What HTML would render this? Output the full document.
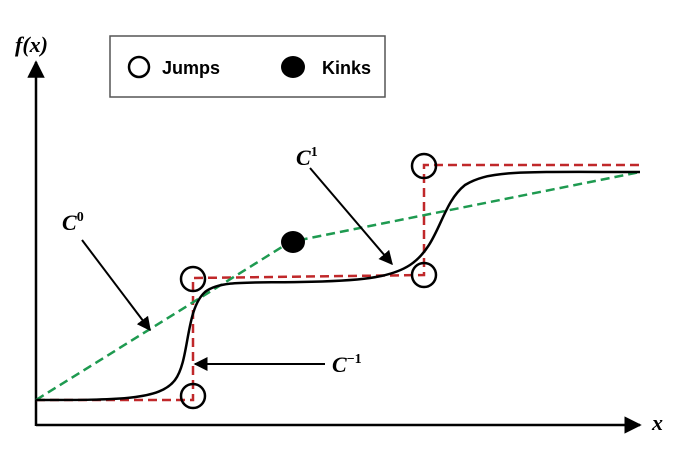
<!DOCTYPE html>
<html><head><style>body{margin:0;background:#fff}svg{display:block}</style></head><body>
<svg width="690" height="449" viewBox="0 0 690 449" xmlns="http://www.w3.org/2000/svg">
<defs><marker id="a" viewBox="0 0 10 10" refX="9" refY="5" markerWidth="7" markerHeight="7" orient="auto"><path d="M0,0L10,5L0,10z" fill="#000"/></marker></defs>
<line x1="36" y1="426" x2="36" y2="62" stroke="#000" stroke-width="2.5" marker-end="url(#a)"/>
<line x1="36" y1="425" x2="640" y2="425" stroke="#000" stroke-width="2.5" marker-end="url(#a)"/>
<text x="15" y="52" font-family="Liberation Serif,serif" font-style="italic" font-weight="bold" font-size="22">f(x)</text>
<text x="652" y="430" font-family="Liberation Serif,serif" font-style="italic" font-weight="bold" font-size="22">x</text>
<rect x="110" y="36" width="275" height="61" fill="#fff" stroke="#555" stroke-width="1.5"/>
<circle cx="139" cy="67" r="10" fill="none" stroke="#000" stroke-width="2.5"/>
<text x="162" y="74" font-family="Liberation Sans,sans-serif" font-weight="bold" font-size="18">Jumps</text>
<ellipse cx="293" cy="67" rx="12" ry="11" fill="#000"/>
<text x="322" y="74" font-family="Liberation Sans,sans-serif" font-weight="bold" font-size="18">Kinks</text>
<path d="M36,400H193V278L424,275V165H640" fill="none" stroke="#c0282a" stroke-width="2.5" stroke-dasharray="9,5"/>
<path d="M36,400L290,242L640,172" fill="none" stroke="#1e9a50" stroke-width="2.5" stroke-dasharray="9,5"/>
<path d="M36,400C120,400 160,400 175,380C190,360 185,310 205,292C220,280 250,283 300,282C360,281 390,278 410,265C440,245 440,205 465,185C490,170 520,172 640,172" fill="none" stroke="#000" stroke-width="2.5"/>
<g fill="none" stroke="#000" stroke-width="2.5">
<circle cx="193" cy="396" r="12"/><circle cx="193" cy="279" r="12"/><circle cx="424" cy="275" r="12"/><circle cx="424" cy="166" r="12"/></g>
<ellipse cx="293" cy="242" rx="12" ry="11" fill="#000"/>
<line x1="82" y1="240" x2="150" y2="330" stroke="#000" stroke-width="2" marker-end="url(#a)"/>
<line x1="310" y1="168" x2="392" y2="264" stroke="#000" stroke-width="2" marker-end="url(#a)"/>
<line x1="325" y1="364" x2="195" y2="364" stroke="#000" stroke-width="2" marker-end="url(#a)"/>
<g font-family="Liberation Serif,serif" font-style="italic" font-weight="bold" font-size="22">
<text x="62" y="230">C<tspan font-size="14" dy="-9" font-style="normal">0</tspan></text>
<text x="296" y="165">C<tspan font-size="14" dy="-9" font-style="normal">1</tspan></text>
<text x="332" y="372">C<tspan font-size="14" dy="-9" font-style="normal">−1</tspan></text>
</g>
</svg>
</body></html>
